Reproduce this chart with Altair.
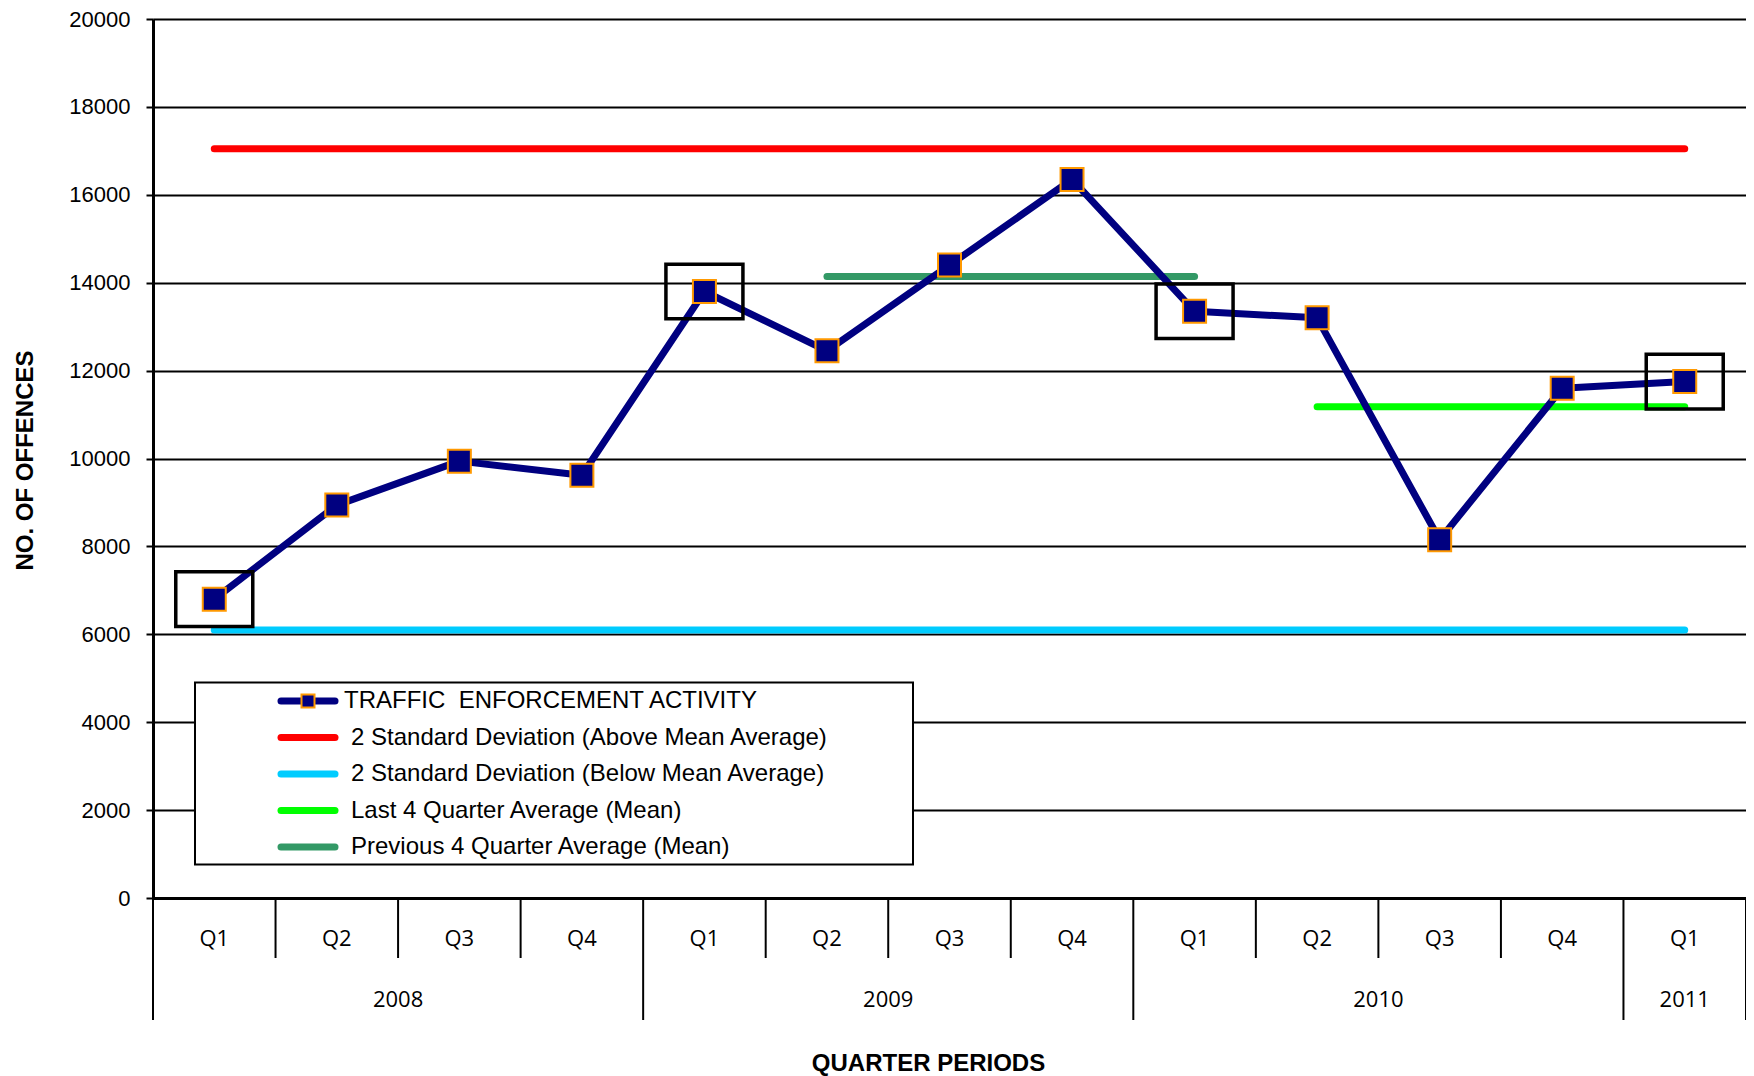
import altair as alt
import pandas as pd

# ---------------- data ----------------
quarters = ["Q1", "Q2", "Q3", "Q4", "Q1", "Q2", "Q3", "Q4", "Q1", "Q2", "Q3", "Q4", "Q1"]
years = ["2008"] * 4 + ["2009"] * 4 + ["2010"] * 4 + ["2011"]
offences = [6800, 8940, 9940, 9620, 13800, 12450, 14400, 16350, 13350, 13200, 8150, 11600, 11750]
upper_2sd = 17050
lower_2sd = 6100
prev4_mean = 14140
last4_mean = 11180
highlight_quarter = "Q1"

series_labels = [
    "TRAFFIC\u00a0 ENFORCEMENT ACTIVITY",
    "2 Standard Deviation (Above Mean Average)",
    "2 Standard Deviation (Below Mean Average)",
    "Last 4 Quarter Average (Mean)",
    "Previous 4 Quarter Average (Mean)",
]
series_colors = ["#000080", "#FF0000", "#00CCFF", "#00FF00", "#339966"]
marker_stroke = "#FF9900"
y_ticks = list(range(0, 20001, 2000))

# ---------------- tables ----------------
n = len(quarters)
df = pd.DataFrame({"pos": [i + 0.5 for i in range(n)], "quarter": quarters,
                   "year": years, "offences": offences})

ref = pd.DataFrame({
    "series": [series_labels[1], series_labels[2], series_labels[4], series_labels[3]],
    "x1": [0.5, 0.5, n - 8 + 0.5, n - 4 + 0.5],
    "x2": [n - 0.5, n - 0.5, n - 5 + 0.5, n - 1 + 0.5],
    "v": [upper_2sd, lower_2sd, prev4_mean, last4_mean],
})

q_bounds = [i for i in range(1, n) if years[i] == years[i - 1]]
y_bounds = [0] + [i for i in range(1, n) if years[i] != years[i - 1]] + [n]
qsep = pd.DataFrame({"b": q_bounds})
ysep = pd.DataFrame({"b": y_bounds})

year_names = list(dict.fromkeys(years))
year_mid = []
for y in year_names:
    idx = [i for i in range(n) if years[i] == y]
    year_mid.append((idx[0] + idx[-1] + 1) / 2)
ylab = pd.DataFrame({"year": year_names, "mid": year_mid})

# ---------------- scales / axes ----------------
FONT = "Liberation Sans"
TOP = 11
PH = 879
xscale = alt.Scale(domain=[0, n], nice=False, zero=False)
yscale = alt.Scale(domain=[0, 20000], nice=False)
xaxis = alt.Axis(title="QUARTER PERIODS", labels=False, ticks=False, grid=False,
                 domain=True, domainWidth=3, domainColor="black",
                 titleFont=FONT, titleFontSize=24, titleFontWeight="bold", titleColor="black",
                 titleX=775, titleY=165, titleBaseline="middle", titleAlign="center")
yaxis = alt.Axis(values=y_ticks, format="d", grid=True, gridColor="black", gridWidth=2,
                 gridOpacity=1, domainColor="black", domainWidth=3, tickColor="black",
                 tickWidth=2, tickSize=7, labelFont=FONT, labelFontSize=22, labelColor="black",
                 labelPadding=16, title="NO. OF OFFENCES", titleFont=FONT, titleFontSize=24,
                 titleFontWeight="bold", titleColor="black", titleX=-128, titleY=441,
                 titleAngle=270, titleAlign="center", titleBaseline="middle")

X = alt.X("pos:Q", scale=xscale, axis=xaxis)
Y = alt.Y("offences:Q", scale=yscale, axis=yaxis)
color = alt.Color("series:N", scale=alt.Scale(domain=series_labels, range=series_colors), legend=None)

# ---------------- layers ----------------
ref_lines = alt.Chart(ref).mark_rule(strokeWidth=7, strokeCap="round").encode(
    x=alt.X("x1:Q", scale=xscale, axis=xaxis), x2="x2:Q",
    y=alt.Y("v:Q", scale=yscale, axis=yaxis), color=color)

data_line = alt.Chart(df).mark_line(color=series_colors[0], strokeWidth=7,
                                    strokeJoin="round").encode(x=X, y=Y)

box_path = "M-1,-0.71L1,-0.71L1,0.71L-1,0.71Z"
boxes = alt.Chart(df).transform_filter(
    alt.datum.quarter == highlight_quarter
).mark_point(shape=box_path, size=77 * 77, filled=False, stroke="black",
             strokeWidth=3.5, opacity=1).encode(x=X, y=Y)

markers = alt.Chart(df).mark_point(shape="square", size=529, filled=True,
                                   fill=series_colors[0], stroke=marker_stroke,
                                   strokeWidth=2, opacity=1).encode(x=X, y=Y)

qsep_rules = alt.Chart(qsep).mark_rule(color="black", strokeWidth=2).encode(
    x=alt.X("b:Q", scale=xscale, axis=xaxis), y=alt.value(PH), y2=alt.value(PH + 60))
ysep_rules = alt.Chart(ysep).mark_rule(color="black", strokeWidth=2).encode(
    x=alt.X("b:Q", scale=xscale, axis=xaxis), y=alt.value(PH), y2=alt.value(PH + 122))

q_text = alt.Chart(df).mark_text(font="Open Sans", fontSize=22, color="black",
                                 baseline="middle", align="center").encode(
    x=X, y=alt.value(PH + 40.5), text="quarter:N")
y_text = alt.Chart(ylab).mark_text(font="Open Sans", fontSize=22, color="black",
                                   baseline="middle", align="center").encode(
    x=alt.X("mid:Q", scale=xscale, axis=xaxis), y=alt.value(PH + 101.5), text="year:N")

one = pd.DataFrame({"k": [0]})
off = 17 - TOP - 6  # keep legend at same page position
legend_layers = [
    alt.Chart(one).mark_rect(fill="white", stroke="black", strokeWidth=2).encode(
        x=alt.value(42), x2=alt.value(760), y=alt.value(663.5), y2=alt.value(845.5))
]
for i, (lab, col) in enumerate(zip(series_labels, series_colors)):
    yy = 682 + 36.5 * i
    legend_layers.append(
        alt.Chart(one).mark_rule(color=col, strokeWidth=7, strokeCap="round").encode(
            x=alt.value(128), x2=alt.value(182), y=alt.value(yy)))
    legend_layers.append(
        alt.Chart(one).mark_text(text=lab, font=FONT, fontSize=24, color="black",
                                 align="left", baseline="middle").encode(
            x=alt.value(191 if i == 0 else 198), y=alt.value(yy)))
legend_layers.append(
    alt.Chart(one).mark_point(shape="square", size=169, filled=True, fill=series_colors[0],
                              stroke=marker_stroke, strokeWidth=2, opacity=1).encode(
        x=alt.value(155), y=alt.value(682)))

chart = alt.layer(
    ref_lines, data_line, boxes, markers, qsep_rules, ysep_rules, q_text, y_text,
    *legend_layers
).properties(
    width=1593, height=PH,
    autosize=alt.AutoSizeParams(type="none"),
    padding={"left": 145, "top": TOP, "right": 0, "bottom": 178},
).configure_view(stroke=None).configure(background="white")

chart.save("out.html", embed_options={"renderer": "svg", "actions": False})
